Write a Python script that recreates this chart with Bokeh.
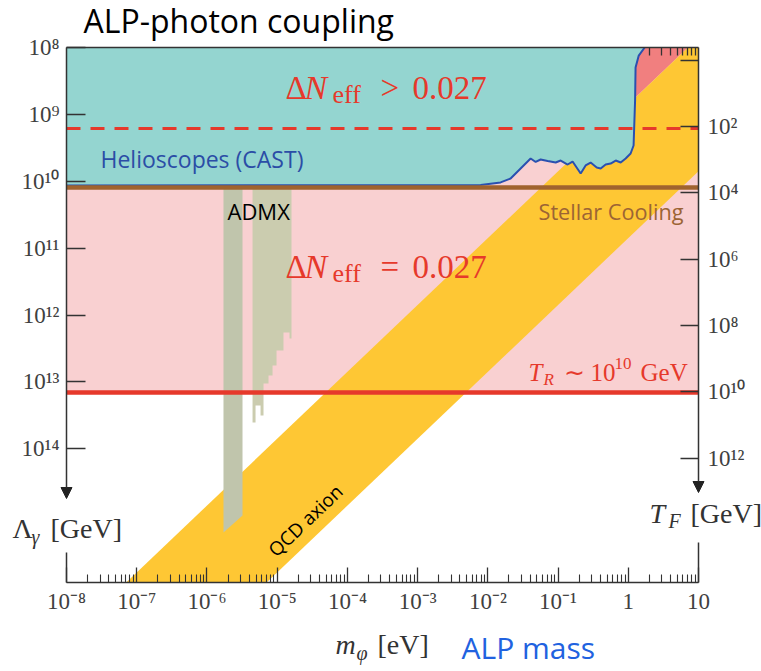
import math
from bokeh.plotting import figure
from bokeh.models import (Range1d, LogScale, LogAxis, FixedTicker, CustomJSTickFormatter,
                          Label, Arrow, NormalHead)
from bokeh.embed import file_html
from bokeh.resources import INLINE

# ---------------- data ----------------
x_ticks = [1e-8, 1e-7, 1e-6, 1e-5, 1e-4, 1e-3, 1e-2, 1e-1, 1.0, 10.0]
x_tick_labels = ["10⁻⁸", "10⁻⁷", "10⁻⁶", "10⁻⁵", "10⁻⁴", "10⁻³", "10⁻²", "10⁻¹", "1", "10"]
lam_ticks = [1e8, 1e9, 1e10, 1e11, 1e12, 1e13, 1e14]
lam_tick_labels = ["10⁸", "10⁹", "10¹⁰", "10¹¹", "10¹²", "10¹³", "10¹⁴"]
tf_ticks = [1e0, 1e2, 1e4, 1e6, 1e8, 1e10, 1e12]
tf_tick_labels = ["", "10²", "10⁴", "10⁶", "10⁸", "10¹⁰", "10¹²"]
top_ticks = [2, 3, 4, 5, 6, 7, 8, 9]

m_range = [1e-8, 10.0]          # plotted mass range (eV)
lam_range = [1e16, 1e8]         # Lambda_gamma, bottom -> top (GeV)
tf_range = [10 ** 15.75, 10 ** -0.38]   # T_F at the bottom / top of the plot (GeV)

lam_dneff_gt = 1.63e9
lam_stellar = 1.24e10
lam_TR = 1.44e13

cast_mass = [1e-8, 7.9e-3, 1.52e-2, 2.11e-2, 2.93e-2, 4.07e-2, 4.80e-2, 5.65e-2, 7.11e-2,
             9.25e-2, 0.109, 0.137, 0.161, 0.210, 0.247, 0.291, 0.355, 0.405, 0.476, 0.561,
             0.662, 0.780, 0.918, 1.08, 1.19, 1.25, 1.27, 1.41, 1.71]
cast_lam = [1.16e10, 1.14e10, 1.04e10, 9.10e9, 6.45e9, 4.57e9, 5.15e9, 4.73e9, 4.98e9,
            5.25e9, 4.90e9, 5.62e9, 5.07e9, 7.66e9, 5.81e9, 5.25e9, 6.23e9, 6.45e9, 5.62e9,
            5.43e9, 4.90e9, 5.25e9, 4.57e9, 3.85e9, 2.92e9, 6.21e8, 1.99e8, 1.32e8, 1e8]

qcd_mass = [1e-8, 10.0]
qcd_lam_upper = [7.08e16, 7.08e7]
qcd_lam_lower = [7.08e18, 7.08e9]

salmon_mass = [1.0, 7.08, 1.0]
salmon_lam = [1e8, 1e8, 7.08e8]

admx1_mass = [1.72e-6, 3.21e-6]
admx1_lam_bottom = [1.79e15, 9.95e14]

admx2_edges = [4.46e-6, 4.92e-6, 5.80e-6, 6.39e-6, 7.53e-6, 8.59e-6, 9.79e-6, 1.23e-5, 1.50e-5, 1.60e-5]
admx2_bottom = [4.05e13, 2.25e13, 3.18e13, 1.06e13, 8.03e12, 5.69e12, 3.40e12, 1.83e12, 2.24e12]

# ---------------- colours ----------------
PINK = "#F9D0D1"
TEAL = "#94D5D0"
YELLOW = "#FEC734"
SALMON = "#F17F7F"
ADMX1 = "#C0C5AC"
ADMX2 = "#CBCCAF"
RED = "#E6392B"
BROWN = "#A0632E"
CASTBLUE = "#2A50B0"
AXC = "#333333"
TICKC = "#404040"
SERIF = "Liberation Serif"
SANS = "Open Sans"

# ---------------- geometry (plot region inside a full-page frame) ----------------
W, H = 761, 671
L, R, T, B = 66, 698, 47, 582      # plot-region edges in page pixels
lx0, lx1 = math.log10(m_range[0]), math.log10(m_range[1])
ly_top, ly_bot = math.log10(lam_range[1]), math.log10(lam_range[0])
PXD = (R - L) / (lx1 - lx0)
PYD = (B - T) / (ly_bot - ly_top)
x_full = Range1d(10 ** (lx0 - L / PXD), 10 ** (lx1 + (W - R) / PXD))
y_full = Range1d(10 ** (ly_bot + (H - B) / PYD), 10 ** (ly_top - T / PYD))
tf_bot, tf_top = math.log10(tf_range[0]), math.log10(tf_range[1])
tf_per = (tf_bot - tf_top) / (ly_bot - ly_top)
tf_full = Range1d(10 ** (tf_bot + (H - B) / PYD * tf_per), 10 ** (tf_top - T / PYD * tf_per))

p = figure(width=W, height=H, x_axis_type="log", y_axis_type="log",
           x_range=x_full, y_range=y_full,
           extra_y_ranges={"tf": tf_full}, extra_y_scales={"tf": LogScale()},
           output_backend="svg", toolbar_location=None,
           min_border_left=0, min_border_right=0, min_border_top=0, min_border_bottom=0)
p.outline_line_color = None
p.xgrid.visible = False
p.ygrid.visible = False
p.background_fill_color = "white"
p.border_fill_color = "white"

fmt_code = """
const lt = Math.log10(tick);
for (let i = 0; i < tvals.length; i++) {
  if (Math.abs(Math.log10(tvals[i]) - lt) < 1e-6) return tlabels[i];
}
return "";
"""

def make_fmt(vals, labels):
    return CustomJSTickFormatter(args=dict(tvals=vals, tlabels=labels), code=fmt_code)

def style_axis(ax):
    ax.major_tick_out = 0
    ax.minor_tick_out = 0
    ax.major_tick_line_color = AXC
    ax.minor_tick_line_color = AXC
    ax.major_tick_line_width = 1.3
    ax.minor_tick_line_width = 1.1
    ax.major_label_text_font = SERIF
    ax.major_label_text_font_size = "23px"
    ax.major_label_text_color = TICKC

# bottom axis
xa = p.xaxis[0]
xa.fixed_location = lam_range[0]
xa.bounds = (m_range[0], m_range[1])
xa.ticker = FixedTicker(ticks=x_ticks,
                        minor_ticks=[k * t for t in x_ticks[:-1] for k in range(2, 10)])
xa.formatter = make_fmt(x_ticks, x_tick_labels)
style_axis(xa)
xa.major_tick_in = 15
xa.minor_tick_in = 8
xa.axis_line_color = AXC
xa.axis_line_width = 1.5
xa.major_label_standoff = 6

# left axis
ya = p.yaxis[0]
ya.fixed_location = m_range[0]
ya.bounds = (lam_range[1], lam_range[0])
ya.ticker = FixedTicker(ticks=lam_ticks, minor_ticks=[])
ya.formatter = make_fmt(lam_ticks, lam_tick_labels)
style_axis(ya)
ya.major_tick_in = 19
ya.minor_tick_in = 0
ya.axis_line_color = None
ya.major_label_standoff = 7

# right axis (T_F)
ra = LogAxis(y_range_name="tf", fixed_location=m_range[1],
             ticker=FixedTicker(ticks=tf_ticks, minor_ticks=[]),
             formatter=make_fmt(tf_ticks, tf_tick_labels))
style_axis(ra)
ra.major_tick_in = 18
ra.minor_tick_in = 0
ra.axis_line_color = None
ra.major_label_standoff = 9
p.add_layout(ra, "right")

# top axis (frame line + a few inward ticks)
ta = LogAxis(fixed_location=lam_range[1], bounds=(m_range[0], m_range[1]),
             ticker=FixedTicker(ticks=top_ticks, minor_ticks=[]),
             formatter=CustomJSTickFormatter(code="return '';"))
ta.major_tick_out = 0
ta.major_tick_in = 8
ta.minor_tick_in = 0
ta.minor_tick_out = 0
ta.major_tick_line_color = AXC
ta.major_tick_line_width = 1.3
ta.axis_line_color = AXC
ta.axis_line_width = 1.5
p.add_layout(ta, "above")

# ---------------- polygon clipping to the plot region (log space) ----------------
def clip_poly(pts, xmin, xmax, ymin, ymax):
    def clip(pts, inside, inter):
        out = []
        for i in range(len(pts)):
            cur, prev = pts[i], pts[i - 1]
            if inside(cur):
                if not inside(prev):
                    out.append(inter(prev, cur))
                out.append(cur)
            elif inside(prev):
                out.append(inter(prev, cur))
        return out

    def ix(xc):
        return lambda a, b: (xc, a[1] + (b[1] - a[1]) * (xc - a[0]) / (b[0] - a[0]))

    def iy(yc):
        return lambda a, b: (a[0] + (b[0] - a[0]) * (yc - a[1]) / (b[1] - a[1]), yc)

    pts = clip(pts, lambda q: q[0] >= xmin, ix(xmin))
    pts = clip(pts, lambda q: q[0] <= xmax, ix(xmax))
    pts = clip(pts, lambda q: q[1] >= ymin, iy(ymin))
    pts = clip(pts, lambda q: q[1] <= ymax, iy(ymax))
    return pts

band = [(math.log10(m), math.log10(v)) for m, v in zip(qcd_mass, qcd_lam_upper)]
band += [(math.log10(m), math.log10(v)) for m, v in zip(qcd_mass[::-1], qcd_lam_lower[::-1])]
band = clip_poly(band, lx0, lx1, ly_top, ly_bot)

# ---------------- regions ----------------
p.varea(x=m_range, y1=[lam_range[1]] * 2, y2=[lam_TR] * 2, fill_color=PINK)
p.patch(salmon_mass, salmon_lam, fill_color=SALMON, line_color=None)
p.patch([10 ** a for a, _ in band], [10 ** b for _, b in band], fill_color=YELLOW, line_color=None)
p.patch([m_range[0]] + cast_mass, [lam_range[1]] + cast_lam, fill_color=TEAL, line_color=None)

# ADMX strips
p.patch([admx1_mass[0], admx1_mass[1], admx1_mass[1], admx1_mass[0]],
        [lam_stellar, lam_stellar, admx1_lam_bottom[1], admx1_lam_bottom[0]],
        fill_color=ADMX1, line_color=None)
ax2, ay2 = [admx2_edges[0]], [lam_stellar]
for i, b in enumerate(admx2_bottom):
    ax2 += [admx2_edges[i], admx2_edges[i + 1]]
    ay2 += [b, b]
ax2 += [admx2_edges[-1]]
ay2 += [lam_stellar]
p.patch(ax2, ay2, fill_color=ADMX2, line_color=None)

# lines
p.line(cast_mass, cast_lam, line_color=CASTBLUE, line_width=2)
p.line(m_range, [lam_dneff_gt] * 2, line_color=RED, line_width=3, line_dash="14 10")
p.line(m_range, [lam_stellar] * 2, line_color=BROWN, line_width=4.5)
p.line(m_range, [lam_TR] * 2, line_color=RED, line_width=4.5)

# ---------------- helpers for page-pixel placement of texts/arrows ----------------
def dx(px):
    return 10 ** (lx0 + (px - L) / PXD)

def dy(py):
    return 10 ** (ly_top + (py - T) / PYD)

for xv, tip, rest in [(m_range[0], 498, 552), (m_range[1], 492, 542)]:
    p.add_layout(Arrow(end=NormalHead(size=11, fill_color="#222222", line_color="#222222"),
                       x_start=xv, y_start=lam_range[1], x_end=xv, y_end=dy(tip),
                       line_color=AXC, line_width=1.5))
    p.add_layout(Arrow(end=None, x_start=xv, y_start=dy(rest), x_end=xv, y_end=lam_range[0],
                       line_color=AXC, line_width=1.5))

def txt(s, px, base, size, color, font=SERIF, style="normal"):
    # base: text baseline in page pixels; placed by its middle
    p.add_layout(Label(x=dx(px), y=dy(base - 0.33 * size), text=s, text_font=font,
                       text_font_size=f"{size}px", text_font_style=style,
                       text_color=color, text_align="left", text_baseline="middle"))

txt("ALP-photon coupling", 83, 31, 32, "black", font=SANS)
txt("Helioscopes (CAST)", 100, 166, 23, "#2B4DA6", font=SANS)
txt("ADMX", 227, 218, 22, "black", font=SANS)
txt("Stellar Cooling", 538, 218, 21.7, "#9C6434", font=SANS)
p.add_layout(Label(x=dx(305), y=dy(520), text="QCD axion", text_font=SANS,
                   text_font_size="19px", text_color="black", text_align="center",
                   text_baseline="middle", angle=0.761))
txt("ALP mass", 461, 657, 30, "#2162E0", font=SANS)

# Delta N_eff > 0.027
txt("Δ", 285, 98, 33, RED)
txt("N", 304, 98, 34, RED, style="italic")
txt("eff", 332, 103, 26, RED)
txt(">", 380, 98, 33, RED)
txt("0.027", 412, 98, 33, RED)
# Delta N_eff = 0.027
txt("Δ", 285, 277, 33, RED)
txt("N", 304, 277, 34, RED, style="italic")
txt("eff", 332, 282, 26, RED)
txt("=", 380, 277, 33, RED)
txt("0.027", 412, 277, 33, RED)
# T_R ~ 10^10 GeV
txt("T", 528, 380, 25, RED, style="italic")
txt("R", 543, 385, 17, RED, style="italic")
txt("∼", 563, 380, 25, RED)
txt("10", 590, 380, 25, RED)
txt("10", 614, 369, 17, RED)
txt("GeV", 640, 380, 25, RED)
# Lambda_gamma [GeV]
txt("Λ", 12, 537, 28, "#333333")
txt("γ", 31, 543, 20, "#333333", style="italic")
txt("[GeV]", 50, 537, 28, "#333333")
# T_F [GeV]
txt("T", 649, 522, 28, "#333333", style="italic")
txt("F", 668, 527, 20, "#333333", style="italic")
txt("[GeV]", 690, 522, 28, "#333333")
# m_phi [eV]
txt("m", 335, 653, 28, "#333333", style="italic")
txt("φ", 356, 659, 20, "#333333", style="italic")
txt("[eV]", 377, 653, 28, "#333333")

open("out.html", "w").write(file_html(p, INLINE))
